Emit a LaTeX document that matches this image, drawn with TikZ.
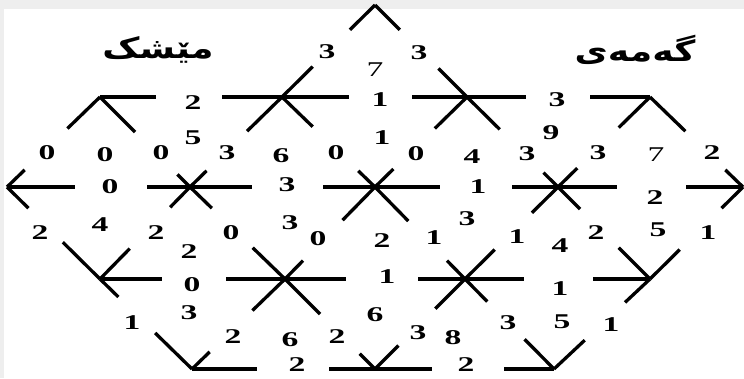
\documentclass[tikz,border=0pt]{standalone}
\usepackage{fontspec}
\TeXXeTstate=1
\usetikzlibrary{calc}
\newfontfamily\numfont[FakeStretch=1.6]{Liberation Serif}
\newfontfamily\kufont[Script=Arabic,FakeStretch=1.25]{DejaVu Sans}
\definecolor{framegray}{HTML}{EEEEEE}
\tikzset{
  edge/.style={line width=3.3pt, black},
  num/.style={font={\numfont\bfseries\fontsize{21pt}{21pt}\selectfont}, inner sep=0pt, anchor=center},
  numlight/.style={font={\numfont\fontsize{21pt}{21pt}\selectfont}, inner sep=0pt, anchor=center},
  titletext/.style={font={\kufont\bfseries\fontsize{29pt}{29pt}\selectfont}, inner sep=0pt, anchor=center}
}
\begin{document}
\begin{tikzpicture}[x=1pt,y=-1pt]
\useasboundingbox (0,0) rectangle (744,378);
\fill[framegray] (0,0) rectangle (744,378);
\fill[white] (4,9) rectangle (744,378);
% lattice points
\coordinate (A) at (375,5);
\coordinate (B1) at (100,97);
\coordinate (B2) at (282,97);
\coordinate (B3) at (467,97);
\coordinate (B4) at (650,97);
\coordinate (C1) at (7,187);
\coordinate (C2) at (190,187);
\coordinate (C3) at (375,187);
\coordinate (C4) at (558,187);
\coordinate (C5) at (743,187);
\coordinate (D1) at (100,279);
\coordinate (D2) at (285,279);
\coordinate (D3) at (465,279);
\coordinate (D4) at (650,279);
\coordinate (E1) at (192,369);
\coordinate (E2) at (375,369);
\coordinate (E3) at (554,369);
% stubs
\foreach \a/\b/\f in {
  A/B2/0.27, A/B3/0.27,
  B1/B2/0.31, B1/C1/0.35, B1/C2/0.39,
  B2/B1/0.33, B2/B3/0.36, B2/A/0.33, B2/C2/0.38, B2/C3/0.33,
  B3/B2/0.30, B3/B4/0.32, B3/A/0.31, B3/C3/0.35, B3/C4/0.36,
  B4/B3/0.33, B4/C4/0.34, B4/C5/0.38,
  C1/C2/0.37, C1/B1/0.19, C1/D1/0.23,
  C2/C1/0.235, C2/C3/0.335, C2/B1/0.14, C2/B2/0.18, C2/D1/0.22, C2/D2/0.23,
  C3/C2/0.28, C3/C4/0.355, C3/B2/0.18, C3/B3/0.2, C3/D2/0.36, C3/D3/0.37,
  C4/C3/0.25, C4/C5/0.32, C4/B3/0.16, C4/B4/0.21, C4/D3/0.28, C4/D4/0.24,
  C5/C4/0.31, C5/B4/0.19, C5/D4/0.23,
  D1/D2/0.335, D1/C1/0.4, D1/C2/0.33, D1/E1/0.2,
  D2/D1/0.32, D2/D3/0.34, D2/C2/0.34, D2/C3/0.2, D2/E1/0.35, D2/E2/0.39,
  D3/D2/0.26, D3/D4/0.32, D3/C3/0.2, D3/C4/0.32, D3/E2/0.33, D3/E3/0.25,
  D4/D3/0.31, D4/C4/0.34, D4/C5/0.32, D4/E3/0.26,
  E1/E2/0.355, E1/D1/0.4, E1/D2/0.19,
  E2/E1/0.25, E2/E3/0.32, E2/D2/0.17, E2/D3/0.26,
  E3/E2/0.28, E3/D3/0.33, E3/D4/0.32}
  \draw[edge] (\a) -- ($(\a)!\f!(\b)$);
% titles
\node[titletext] (tleft) at (158,50) {\beginR مێشک\endR};
\node[titletext] (tright) at (635,50) {\beginR گەمەی\endR};
% light labels
\node[numlight] (ltop) at (375,70) {7};
\node[numlight] (lright) at (656,155) {7};
% numbers
\foreach \x/\y/\t [count=\i] in {
  327/52/3, 419/53/3,
  193/103/2, 380/100/1, 557/100/3,
  193/138/5, 382/138/1, 551/133/9,
  47/153/0, 105/155/0, 161/153/0, 227/153/3, 281/156/6, 336/153/0,
  416/154/0, 472/157/4, 527/154/3, 598/153/3, 712/153/2,
  110/187/0, 287/185/3, 478/187/1, 655/198/2,
  40/233/2, 100/225/4, 156/233/2, 231/233/0, 290/223/3, 318/239/0,
  189/252/2, 382/241/2, 434/238/1, 467/219/3, 517/237/1, 560/246/4,
  596/233/2, 658/230/5, 708/233/1,
  192/285/0, 387/277/1, 560/289/1,
  189/313/3, 375/315/6, 562/322/5,
  132/323/1, 233/337/2, 290/340/6, 337/337/2, 418/333/3, 453/338/8,
  508/323/3, 611/325/1,
  297/365/2, 466/365/2}
  \node[num] (n\i) at (\x,\y) {\t};
\end{tikzpicture}
\end{document}
